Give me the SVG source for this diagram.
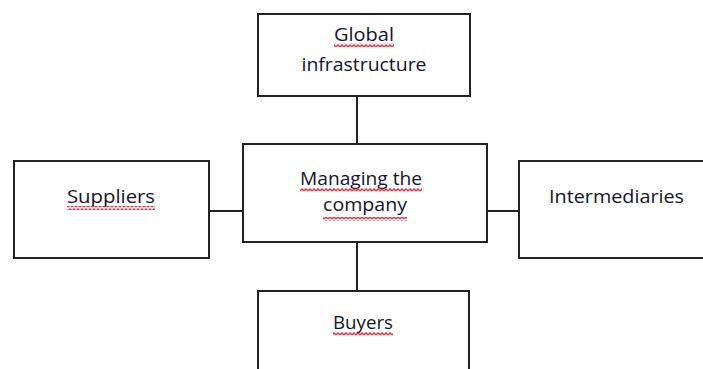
<svg xmlns="http://www.w3.org/2000/svg" width="703" height="369" viewBox="0 0 703 369">
<style>
.box{fill:#fff;stroke:#222;stroke-width:2}
.edge{stroke:#222;stroke-width:2;fill:none}
.lbl{font-family:"Open Sans","Liberation Sans",Arial,sans-serif;font-size:18px;fill:#14142a;text-anchor:middle}
.sq{fill:url(#squiggle)}
</style>
<defs>
<pattern id="squiggle" x="0" y="0" width="4" height="4" patternUnits="userSpaceOnUse">
<path d="M0,3 L2,1 L4,3" fill="none" stroke="#f0283a" stroke-width="1.4"/>
</pattern>
</defs>
<rect width="703" height="369" fill="#fff"/>
<g id="connectors">
<line class="edge" x1="357" y1="96" x2="357" y2="144"/>
<line class="edge" x1="357" y1="242" x2="357" y2="291"/>
<line class="edge" x1="209" y1="211" x2="243" y2="211"/>
<line class="edge" x1="487" y1="211" x2="519" y2="211"/>
</g>
<g id="global">
<rect class="box" x="258" y="14" width="212" height="82"/>
<text class="lbl" x="364" y="41" textLength="60" lengthAdjust="spacingAndGlyphs">Global</text>
<rect class="sq" x="334" y="43" width="60" height="4"/>
<text class="lbl" x="364" y="71" textLength="125" lengthAdjust="spacingAndGlyphs">infrastructure</text>
</g>
<g id="managing">
<rect class="box" x="243" y="144" width="244" height="98"/>
<text class="lbl" x="361" y="185" textLength="122" lengthAdjust="spacingAndGlyphs">Managing the</text>
<rect class="sq" x="300" y="188" width="122" height="4"/>
<text class="lbl" x="365" y="211" textLength="84" lengthAdjust="spacingAndGlyphs">company</text>
<rect class="sq" x="323" y="217" width="84" height="4"/>
</g>
<g id="suppliers">
<rect class="box" x="14" y="161" width="195" height="97"/>
<text class="lbl" x="111" y="203" textLength="88" lengthAdjust="spacingAndGlyphs">Suppliers</text>
<rect class="sq" x="67" y="206" width="88" height="4"/>
</g>
<g id="intermediaries">
<rect class="box" x="519" y="161" width="200" height="97"/>
<text class="lbl" x="616.5" y="203" textLength="135" lengthAdjust="spacingAndGlyphs">Intermediaries</text>
</g>
<g id="buyers">
<rect class="box" x="258" y="291" width="211" height="90"/>
<text class="lbl" x="363" y="329" textLength="60" lengthAdjust="spacingAndGlyphs">Buyers</text>
<rect class="sq" x="333" y="332" width="60" height="4"/>
</g>
</svg>
